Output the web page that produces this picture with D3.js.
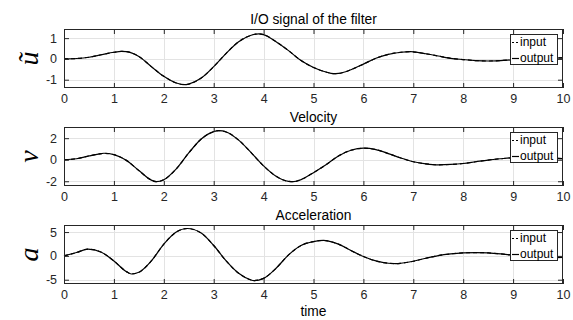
<!DOCTYPE html>
<html><head><meta charset="utf-8">
<script src="https://cdn.jsdelivr.net/npm/d3@7/dist/d3.min.js"></script>
<style>body{margin:0;background:#fff}svg{display:block}</style>
</head><body>
<svg id="c" width="573" height="320"></svg>
<script>
// ---- data ----
const xTicks = [0,1,2,3,4,5,6,7,8,9,10];

const tU   = [0,0.25,0.5,0.75,1.0,1.15,1.25,1.5,1.75,2.0,2.25,2.42,2.5,2.75,3.0,3.25,3.5,3.75,3.9,4.0,4.25,4.5,4.75,5.0,5.25,5.4,5.5,5.75,6.0,6.25,6.5,6.75,6.95,7.0,7.25,7.5,7.75,8.0,8.25,8.5,8.75,9.0,9.25,9.5,9.75,10];
const uIn  = [0,0.02,0.08,0.2,0.32,0.36,0.35,0.12,-0.37,-0.84,-1.16,-1.24,-1.21,-0.92,-0.37,0.27,0.83,1.14,1.21,1.17,0.83,0.4,-0.08,-0.41,-0.63,-0.71,-0.7,-0.52,-0.25,0.03,0.22,0.32,0.35,0.34,0.25,0.14,0.03,-0.03,-0.08,-0.1,-0.08,-0.04,-0.01,0.02,0.04,0.05];
const uOut = [0,0.02,0.08,0.2,0.32,0.36,0.35,0.12,-0.37,-0.84,-1.16,-1.24,-1.21,-0.92,-0.37,0.27,0.83,1.14,1.21,1.17,0.83,0.4,-0.08,-0.41,-0.63,-0.71,-0.7,-0.52,-0.25,0.03,0.22,0.32,0.35,0.34,0.25,0.14,0.03,-0.03,-0.08,-0.1,-0.08,-0.04,-0.01,0.02,0.04,0.05];
const uTicks = [-1,0,1];

const tV   = [0,0.25,0.5,0.75,0.8,1.0,1.25,1.5,1.75,1.85,2.0,2.25,2.5,2.75,3.0,3.1,3.25,3.5,3.75,4.0,4.25,4.5,4.6,4.75,5.0,5.25,5.5,5.75,6.0,6.25,6.5,6.75,7.0,7.25,7.5,7.75,8.0,8.25,8.5,8.75,9.0,9.25,9.5,9.75,10];
const vIn  = [0,0.09,0.35,0.57,0.6,0.47,-0.06,-1.0,-1.89,-2.04,-1.86,-0.85,0.63,1.92,2.61,2.7,2.58,1.82,0.66,-0.57,-1.54,-2.01,-2.04,-1.85,-1.2,-0.47,0.35,0.88,1.07,0.94,0.57,0.16,-0.19,-0.38,-0.47,-0.44,-0.35,-0.19,-0.03,0.09,0.19,0.22,0.2,0.15,0.1];
const vOut = [0,0.09,0.35,0.57,0.6,0.47,-0.06,-1.0,-1.89,-2.04,-1.86,-0.85,0.63,1.92,2.61,2.7,2.58,1.82,0.66,-0.57,-1.54,-2.01,-2.04,-1.85,-1.2,-0.47,0.35,0.88,1.07,0.94,0.57,0.16,-0.19,-0.38,-0.47,-0.44,-0.35,-0.19,-0.03,0.09,0.19,0.22,0.2,0.15,0.1];
const vTicks = [-2,0,2];

const tA   = [0,0.25,0.48,0.75,1.0,1.25,1.35,1.5,1.75,2.0,2.25,2.47,2.75,3.0,3.25,3.5,3.75,3.8,4.0,4.25,4.5,4.75,5.0,5.2,5.25,5.5,5.75,6.0,6.25,6.5,6.65,6.75,7.0,7.25,7.5,7.75,8.0,8.25,8.5,8.75,9.0,9.25,9.5,9.75,10];
const aIn  = [0,0.7,1.41,0.77,-1.06,-3.3,-3.8,-3.45,-1.06,2.46,5.0,5.75,4.79,2.18,-1.06,-3.66,-5.07,-5.2,-4.72,-2.6,0.21,2.18,3.0,3.24,3.2,2.46,1.13,-0.14,-1.06,-1.55,-1.62,-1.55,-1.13,-0.49,0.07,0.42,0.63,0.7,0.63,0.42,0.14,-0.1,-0.3,-0.35,-0.3];
const aOut = [0,0.7,1.41,0.77,-1.06,-3.3,-3.8,-3.45,-1.06,2.46,5.0,5.75,4.79,2.18,-1.06,-3.66,-5.07,-5.2,-4.72,-2.6,0.21,2.18,3.0,3.24,3.2,2.46,1.13,-0.14,-1.06,-1.55,-1.62,-1.55,-1.13,-0.49,0.07,0.42,0.63,0.7,0.63,0.42,0.14,-0.1,-0.3,-0.35,-0.3];
const aTicks = [-5,0,5];

const titles  = ["I/O signal of the filter","Velocity","Acceleration"];
const yLabels = ["ũ","v","a"];
const legendLabels = ["input","output"];
const xLabel = "time";

// ---- layout ----
const W = 573, H = 320;
const left = 64, right = 563, panelH = 59;
const tops = [29, 127, 225];
const yDomains = [[-1.4,1.44],[-2.44,3.04],[-5.9,6.48]];
const axisColor = "#262626", gridColor = "#e3e3e3";
const sans = "'Liberation Sans', Arial, Helvetica, sans-serif";

const panels = [
  {t:tU, inp:uIn, out:uOut, ticks:uTicks},
  {t:tV, inp:vIn, out:vOut, ticks:vTicks},
  {t:tA, inp:aIn, out:aOut, ticks:aTicks}
];

const svg = d3.select("#c");
const x = d3.scaleLinear().domain([0,10]).range([left, right]);

panels.forEach((p, i) => {
  const top = tops[i], bottom = top + panelH;
  const y = d3.scaleLinear().domain(yDomains[i]).range([bottom, top]);
  const g = svg.append("g");

  // grid
  g.append("g").selectAll("line").data(xTicks.slice(1,-1)).join("line")
    .attr("x1", d => Math.round(x(d))+0.5).attr("x2", d => Math.round(x(d))+0.5)
    .attr("y1", top).attr("y2", bottom)
    .attr("stroke", gridColor).attr("stroke-width", 1);
  g.append("g").selectAll("line").data(p.ticks).join("line")
    .attr("y1", d => Math.round(y(d))+0.5).attr("y2", d => Math.round(y(d))+0.5)
    .attr("x1", left).attr("x2", right)
    .attr("stroke", gridColor).attr("stroke-width", 1);

  // data lines
  const mk = vals => d3.line().curve(d3.curveMonotoneX)
    .x((d,k) => x(p.t[k])).y(d => y(d))(vals);
  g.append("path").attr("d", mk(p.inp)).attr("fill","none")
    .attr("stroke","#000").attr("stroke-width",1.2).attr("stroke-dasharray","4,3");
  g.append("path").attr("d", mk(p.out)).attr("fill","none")
    .attr("stroke","#000").attr("stroke-width",1.2);

  // axes (bottom/left with labels, top/right mirrored ticks)
  const tl = 5;
  const ax = g.append("g").attr("transform", `translate(0,${bottom})`)
    .call(d3.axisBottom(x).tickValues(xTicks).tickSize(-tl).tickPadding(6).tickFormat(d3.format("d")));
  const ay = g.append("g").attr("transform", `translate(${left},0)`)
    .call(d3.axisLeft(y).tickValues(p.ticks).tickSize(-tl).tickPadding(tl+2).tickFormat(d3.format("d")));
  const axT = g.append("g").attr("transform", `translate(0,${top})`)
    .call(d3.axisTop(x).tickValues(xTicks).tickSize(-tl).tickFormat(""));
  const ayR = g.append("g").attr("transform", `translate(${right},0)`)
    .call(d3.axisRight(y).tickValues(p.ticks).tickSize(-tl).tickFormat(""));
  [ax, ay, axT, ayR].forEach(a => {
    a.select(".domain").remove();
    a.selectAll(".tick line").attr("stroke", axisColor);
    a.selectAll("text").attr("fill", axisColor).style("font-family", sans).style("font-size","12.5px");
  });
  ay.selectAll("text").text(d => d < 0 ? "-" + Math.abs(d) : d);

  // box
  g.append("rect").attr("x", left+0.5).attr("y", top+0.5)
    .attr("width", right-left-1).attr("height", panelH-1)
    .attr("fill","none").attr("stroke", axisColor).attr("stroke-width",1);

  // title
  g.append("text").attr("x", (left+right)/2).attr("y", top-5)
    .attr("text-anchor","middle").attr("fill","#000")
    .style("font-family", sans).style("font-size","13.8px").text(titles[i]);

  // y label
  g.append("text").attr("transform", `translate(38,${(top+bottom)/2}) rotate(-90)`)
    .attr("text-anchor","middle").attr("fill","#000")
    .style("font-family","'Liberation Serif','Times New Roman',serif")
    .style("font-style","italic").style("font-size","28px").text(yLabels[i]);

  // legend
  const lx = 510, ly = top + 5, lw = 47, lh = 30;
  const lg = g.append("g");
  lg.append("rect").attr("x", lx+0.5).attr("y", ly+0.5).attr("width", lw).attr("height", lh)
    .attr("fill","#fff").attr("stroke", axisColor).attr("stroke-width",1);
  legendLabels.forEach((lab, k) => {
    const cy = ly + 8 + k*16;
    lg.append("line").attr("x1", lx+2).attr("x2", lx+9).attr("y1", cy+0.5).attr("y2", cy+0.5)
      .attr("stroke","#000").attr("stroke-width",1.2)
      .attr("stroke-dasharray", k === 0 ? "2,2" : null);
    lg.append("text").attr("x", lx+10).attr("y", cy+4.3).attr("fill","#000")
      .style("font-family", sans).style("font-size","12px").text(lab);
  });
});

// x label
svg.append("text").attr("x", (left+right)/2).attr("y", 316)
  .attr("text-anchor","middle").attr("fill","#000")
  .style("font-family", sans).style("font-size","13.8px").text(xLabel);
</script>
</body></html>
